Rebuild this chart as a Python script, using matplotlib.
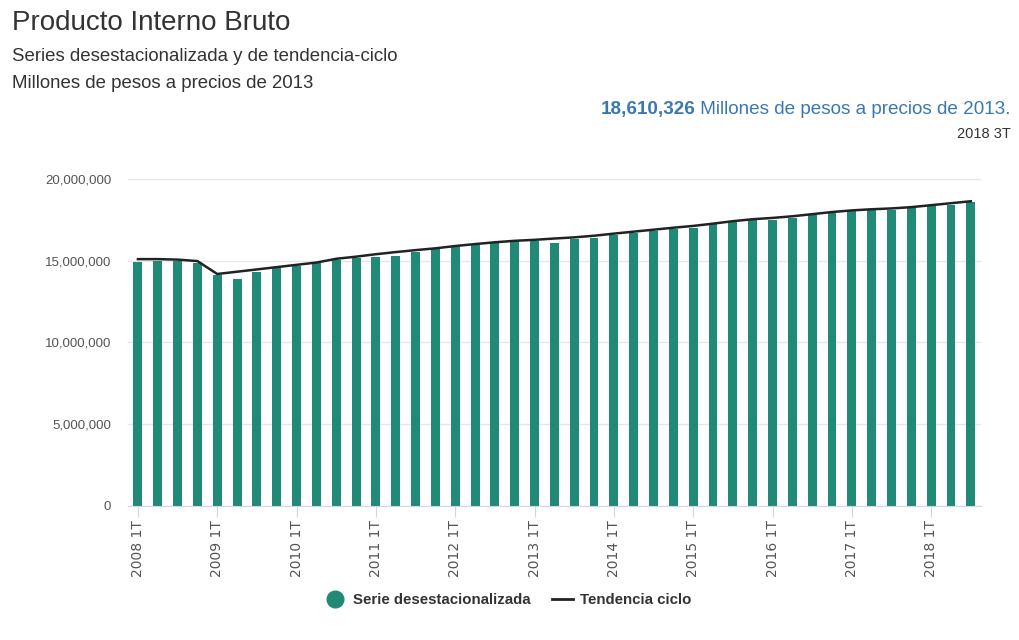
import numpy as np
import matplotlib
matplotlib.use("Agg")
from matplotlib import pyplot as plt
from matplotlib.lines import Line2D
from matplotlib.ticker import FuncFormatter

plt.rcParams['font.family'] = ['Liberation Sans', 'DejaVu Sans']

# quarters 2008 1T .. 2018 3T
years = list(range(2008, 2019))
quarters = [f"{y} {q}T" for y in years for q in range(1, 5)][:43]

# serie desestacionalizada (millones de pesos, en millones)
serie = [14.91, 15.00, 15.00, 14.84, 14.13, 13.87, 14.33, 14.54, 14.70, 14.84,
         15.05, 15.15, 15.21, 15.29, 15.55, 15.72, 15.82, 15.96, 16.07, 16.23,
         16.23, 16.10, 16.31, 16.41, 16.56, 16.68, 16.84, 16.94, 17.02, 17.29,
         17.43, 17.47, 17.52, 17.60, 17.80, 18.00, 18.06, 18.15, 18.10, 18.27,
         18.41, 18.38, 18.610326]

# tendencia ciclo
tendencia = [15.10, 15.10, 15.07, 14.98, 14.19, 14.33, 14.47, 14.61, 14.75, 14.89,
             15.12, 15.25, 15.40, 15.53, 15.65, 15.76, 15.90, 16.02, 16.13, 16.22,
             16.28, 16.36, 16.43, 16.53, 16.66, 16.78, 16.90, 17.02, 17.13, 17.27,
             17.42, 17.54, 17.62, 17.72, 17.85, 17.98, 18.08, 18.15, 18.20, 18.28,
             18.40, 18.52, 18.64]

serie = np.array(serie) * 1e6
tendencia = np.array(tendencia) * 1e6
x = np.arange(len(quarters))

teal = '#218a76'
fig = plt.figure(figsize=(10.2, 6.4), dpi=100)
ax = fig.add_axes([0.1255, 0.2094, 0.836, 0.5109])

ax.bar(x, serie, width=0.45, color=teal, zorder=2)
ax.plot(x, tendencia, color='#222222', lw=1.8, zorder=3, solid_joinstyle='round')

ax.set_xlim(-0.5, 42.5)
ax.set_ylim(0, 20e6)
ax.set_yticks([0, 5e6, 10e6, 15e6, 20e6])
ax.yaxis.set_major_formatter(FuncFormatter(lambda v, p: f"{int(v):,}"))
ax.grid(axis='y', color='#e6e6e6', lw=1, zorder=0)
ax.set_axisbelow(True)
for s in ['top', 'right', 'left']:
    ax.spines[s].set_visible(False)
ax.spines['bottom'].set_color('#ccd6eb')
ax.tick_params(axis='y', length=0, pad=12, labelsize=9.5, labelcolor='#555555')

tick_pos = x[::4]
ax.set_xticks(tick_pos)
ax.set_xticklabels([quarters[i] for i in tick_pos], rotation=90, va='top', ha='center')
ax.tick_params(axis='x', length=8, color='#ccd6eb', labelsize=11, labelcolor='#555555',
               pad=2)
for lab in ax.get_xticklabels():
    lab.set_family(['DejaVu Sans'])
    lab.set_fontsize(10)

fig.text(0.012, 0.964, "Producto Interno Bruto", fontsize=20, color='#333333', va='center')
fig.text(0.012, 0.912, "Series desestacionalizada y de tendencia-ciclo", fontsize=13.4,
         color='#333333', va='center')
fig.text(0.012, 0.870, "Millones de pesos a precios de 2013", fontsize=13.4,
         color='#333333', va='center')

t2 = fig.text(0.991, 0.829, " Millones de pesos a precios de 2013.", fontsize=13.6,
              color='#3a77b5', va='center', ha='right')
fig.canvas.draw()
bb = t2.get_window_extent()
fig.text(bb.x0 / fig.bbox.width, 0.829, "18,610,326", fontsize=13.6, color='#3a77b5',
         fontweight='bold', va='center', ha='right')
fig.text(0.991, 0.790, "2018 3T", fontsize=10.5, color='#333333', va='center', ha='right')

handles = [Line2D([], [], marker='o', ls='none', color=teal, markersize=12),
           Line2D([], [], color='#222222', lw=2)]
fig.legend(handles, ["Serie desestacionalizada", "Tendencia ciclo"], loc='center',
           bbox_to_anchor=(0.498, 0.062), ncol=2, frameon=False,
           prop={'weight': 'bold', 'size': 10.8}, handlelength=1.4, handletextpad=0.5,
           columnspacing=1.4, labelcolor='#333333')

fig.savefig("out.png", dpi=100)
